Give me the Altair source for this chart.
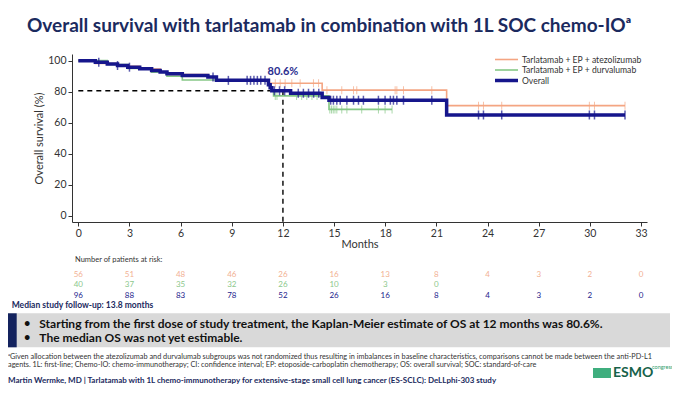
import altair as alt
import pandas as pd

# ---------------- data ----------------
month_ticks = [0, 3, 6, 9, 12, 15, 18, 21, 24, 27, 30, 33]
surv_ticks = [0, 20, 40, 60, 80, 100]

overall_t = [0, 1.0, 1.7, 2.3, 2.9, 3.6, 4.3, 4.8, 5.2, 6.1, 7.6, 8.1, 11.15, 11.25, 11.35, 12.45, 14.3, 14.7, 21.6, 32.06]
overall_s = [100, 99.0, 97.9, 96.9, 95.8, 94.8, 93.7, 92.7, 91.6, 90.5, 89.4, 87.3, 84.4, 82.5, 80.6, 79.0, 76.2, 74.5, 65.0, 65.0]

atezo_t = [0, 1.0, 2.3, 3.6, 4.8, 5.2, 7.6, 8.1, 11.2, 14.3, 21.6, 32.06]
atezo_s = [100, 98.2, 96.4, 94.6, 92.8, 91.0, 89.2, 87.4, 85.4, 81.0, 71.0, 71.0]

durva_t = [0, 1.7, 2.9, 4.3, 5.2, 6.1, 11.15, 11.3, 11.45, 14.7, 18.4]
durva_s = [100, 97.5, 95.0, 92.5, 90.0, 87.5, 84.3, 81.0, 77.3, 68.6, 68.6]

overall_cens = [1.2, 2.3, 3.0, 7.9, 8.8, 9.9, 10.1, 10.3, 10.5, 10.7, 10.95, 11.5, 11.8, 12.1,
                12.9, 13.2, 13.5, 13.8, 14.1, 14.8, 14.96, 15.16, 15.36, 15.75, 16.14, 16.43, 16.72,
                17.6, 17.99, 18.3, 18.48, 18.68, 19.07, 20.73, 23.47, 23.76, 24.83, 29.97, 30.27, 32.06]
atezo_cens = [11.55, 11.84, 12.13, 12.52, 13.01, 13.79, 14.09, 14.58, 15.45, 16.14, 16.33, 18.58,
              18.68, 19.07, 20.73, 23.47, 23.76, 24.83, 29.97, 30.27, 32.06]
durva_cens = [11.55, 11.65, 12.8, 13.1, 13.4, 13.7, 14.0, 14.75, 14.85, 14.95, 15.05, 15.16, 15.45,
              15.75, 16.62, 17.6, 17.99, 18.4]

risk_months = [0, 3, 6, 9, 12, 15, 18, 21, 24, 27, 30, 33]
risk_atezo = [56, 51, 48, 46, 26, 16, 13, 8, 4, 3, 2, 0]
risk_durva = [40, 37, 35, 32, 26, 10, 3, 0]
risk_overall = [96, 88, 83, 78, 52, 26, 16, 8, 4, 3, 2, 0]

landmark_month = [12]
landmark_surv = [80.6]

series_names = ["Tarlatamab + EP + atezolizumab", "Tarlatamab + EP + durvalumab", "Overall"]

# ---------------- styling ----------------
C_ATEZO = "#F4A582"
C_DURVA = "#86C886"
C_OVER = "#16168C"
NAVY = "#1B2A5E"
FONT = "Lato"

def step_value(ts, ss, t):
    v = ss[0]
    for ti, si in zip(ts, ss):
        if ti <= t:
            v = si
    return v

xscale = alt.Scale(domain=[-0.37, 33.35], nice=False, zero=False)
yscale = alt.Scale(domain=[-4, 104.3], nice=False, zero=False)
xaxis = alt.Axis(values=month_ticks, title="Months", grid=False, tickSize=4, labelPadding=2,
                 labelFontSize=10.5, titleFontSize=11, titleFontWeight="normal", titlePadding=0,
                 domainColor="#333", tickColor="#333", labelColor="#333", titleColor="#333",
                 labelFont=FONT, titleFont=FONT)
yaxis = alt.Axis(values=surv_ticks, title="Overall survival (%)", grid=False, tickSize=4, labelPadding=2,
                 labelFontSize=10.5, titleFontSize=11, titleFontWeight="normal", titlePadding=3,
                 domainColor="#333", tickColor="#333", labelColor="#333", titleColor="#333",
                 labelFont=FONT, titleFont=FONT)

def X(field):
    return alt.X(field, type="quantitative", scale=xscale, axis=xaxis)

def Y(field):
    return alt.Y(field, type="quantitative", scale=yscale, axis=yaxis)

def curve(ts, ss, color, width):
    df = pd.DataFrame({"t": ts, "s": ss})
    return alt.Chart(df).mark_line(interpolate="step-after", color=color, strokeWidth=width).encode(
        x=X("t"), y=Y("s"))

def cens(cts, css, cens_t, color, size, thick):
    df = pd.DataFrame({"t": cens_t, "s": [step_value(cts, css, t) for t in cens_t]})
    return alt.Chart(df).mark_tick(orient="vertical", color=color, size=size, thickness=thick).encode(
        x=X("t"), y=Y("s"))

def txt(text, x, y, size, color, weight="normal", align="left", font=FONT):
    return alt.Chart(pd.DataFrame({"label": [text]})).mark_text(
        align=align, baseline="middle", fontSize=size, color=color, fontWeight=weight, font=font
    ).encode(x=alt.value(x), y=alt.value(y), text="label:N")

def rect(x1, x2, y1, y2, color):
    return alt.Chart(pd.DataFrame({"k": [0]})).mark_rect(color=color).encode(
        x=alt.value(x1), x2=alt.value(x2), y=alt.value(y1), y2=alt.value(y2))

def legline(y, color, width):
    return alt.Chart(pd.DataFrame({"k": [0]})).mark_rule(color=color, strokeWidth=width).encode(
        x=alt.value(423), x2=alt.value(446), y=alt.value(y))

def risk_row(vals, color, y):
    df = pd.DataFrame({"m": risk_months[:len(vals)], "n": vals})
    return alt.Chart(df).mark_text(fontSize=8, color=color, font=FONT, baseline="middle").encode(
        x=X("m"), y=alt.value(y), text="n:Q")

# dashed landmark lines
lm = pd.DataFrame({"m": landmark_month, "s": landmark_surv, "m0": [0], "s0": [-4]})
hdash = alt.Chart(lm).mark_rule(color="black", strokeWidth=1.4, strokeDash=[5, 4]).encode(
    x=X("m0"), x2="m", y=Y("s"))
vdash = alt.Chart(lm).mark_rule(color="black", strokeWidth=1.4, strokeDash=[5, 4]).encode(
    x=X("m"), y=Y("s"), y2="s0")
lmlabel = alt.Chart(lm).mark_text(color="#2B2E8F", fontSize=11, fontWeight="bold", font=FONT, dy=-19).encode(
    x=X("m"), y=Y("s"), text=alt.value("80.6%"))

layers = [
    hdash, vdash,
    curve(atezo_t, atezo_s, C_ATEZO, 1.6),
    curve(durva_t, durva_s, C_DURVA, 1.6),
    cens(atezo_t, atezo_s, atezo_cens, C_ATEZO, 8, 1),
    cens(durva_t, durva_s, durva_cens, C_DURVA, 8, 1),
    curve(overall_t, overall_s, C_OVER, 3.5),
    cens(overall_t, overall_s, overall_cens, C_OVER, 9, 1.5),
    lmlabel,
    # legend
    legline(5.5, C_ATEZO, 1.6), legline(16, C_DURVA, 1.6), legline(26.5, C_OVER, 3.5),
    txt(series_names[0], 450, 5.5, 8.6, "#333"),
    txt(series_names[1], 450, 16, 8.6, "#333"),
    txt(series_names[2], 450, 26.5, 8.6, "#333"),
    # title
    txt("Overall survival with tarlatamab in combination with 1L SOC chemo-IO\u1d43", -45, -28, 19, NAVY, "bold"),
    # risk table
    txt("Number of patients at risk:", 3, 206, 7.5, "#333"),
    risk_row(risk_atezo, "#F2B193", 221),
    risk_row(risk_durva, "#8CC88C", 231),
    risk_row(risk_overall, "#23238C", 242),
    # bottom notes
    txt("Median study follow-up: 13.8 months", -60.3, 251, 8.5, NAVY, "bold"),
    rect(-64, 598, 259.3, 293.3, "#D9D9D9"),
    rect(-64, -55.3, 259.3, 293.3, "#14235E"),
    txt("\u2022", -48, 270, 11, "#111", "bold"),
    txt("\u2022", -48, 283.7, 11, "#111", "bold"),
    txt("Starting from the first dose of study treatment, the Kaplan-Meier estimate of OS at 12 months was 80.6%.",
        -32.7, 270, 12, "#111", "bold"),
    txt("The median OS was not yet estimable.", -32.7, 283.7, 12, "#111", "bold"),
    txt("\u1d43Given allocation between the atezolizumab and durvalumab subgroups was not randomized thus resulting in imbalances in baseline characteristics, comparisons cannot be made between the anti-PD-L1",
        -64, 302.5, 7.3, "#333"),
    txt("agents. 1L: first-line; Chemo-IO: chemo-immunotherapy; CI: confidence interval; EP: etoposide-carboplatin chemotherapy; OS: overall survival; SOC: standard-of-care",
        -64, 310.5, 7.3, "#333"),
    txt("Martin Wermke, MD | Tarlatamab with 1L chemo-immunotherapy for extensive-stage small cell lung cancer (ES-SCLC): DeLLphi-303 study",
        -64, 327, 8, NAVY, "bold"),
    # congress logo
    rect(521, 539, 314, 324, "#3FAE7E"),
    txt("ESMO", 541, 319, 14, "#17624A", "bold"),
    txt("congress", 580, 313, 5.5, "#2E9E6E"),
]

chart = alt.layer(*layers).properties(
    width=575, height=168,
    autosize=alt.AutoSizeParams(type="none"),
    padding={"left": 64, "top": 46, "right": 25, "bottom": 168},
    background="white",
).configure_view(stroke=None)

chart.save("out.html", embed_options={"renderer": "svg", "actions": False})
